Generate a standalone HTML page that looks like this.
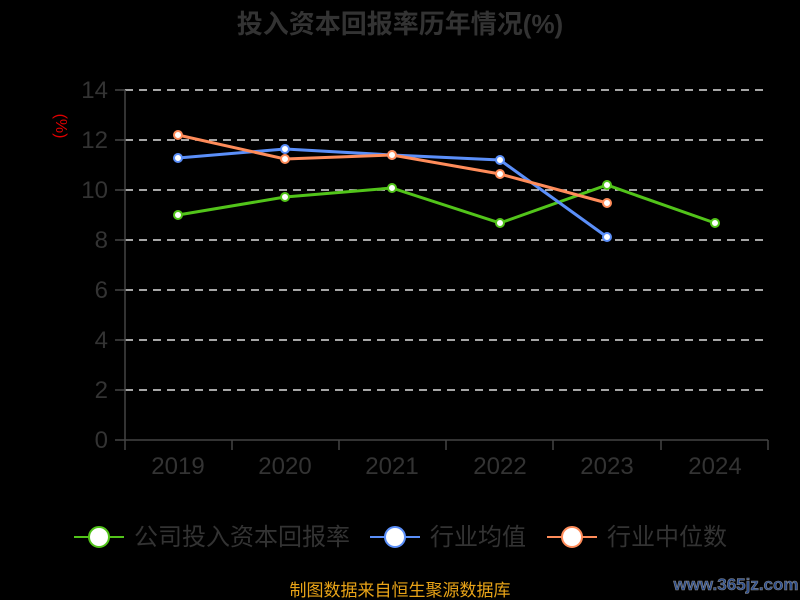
<!DOCTYPE html>
<html><head><meta charset="utf-8"><style>
html,body{margin:0;padding:0;background:#000;width:800px;height:600px;overflow:hidden}
text{font-family:"Liberation Sans","Noto Sans CJK SC",sans-serif}
</style></head><body>
<svg width="800" height="600" xmlns="http://www.w3.org/2000/svg">
<rect width="800" height="600" fill="#000"/>
<text x="400" y="33" text-anchor="middle" font-size="26" font-weight="bold" fill="#333">投入资本回报率历年情况(%)</text>
<text transform="translate(56,126) rotate(90)" text-anchor="middle" font-size="16" fill="#e00000">(%)</text>
<g stroke="#ddd" stroke-width="1.5" stroke-dasharray="8,6">
<line x1="125" y1="90" x2="768" y2="90"/><line x1="125" y1="140" x2="768" y2="140"/>
<line x1="125" y1="190" x2="768" y2="190"/><line x1="125" y1="240" x2="768" y2="240"/>
<line x1="125" y1="290" x2="768" y2="290"/><line x1="125" y1="340" x2="768" y2="340"/>
<line x1="125" y1="390" x2="768" y2="390"/>
</g>
<g stroke="#444" stroke-width="1.5">
<line x1="125" y1="90" x2="125" y2="440"/><line x1="125" y1="440" x2="768" y2="440"/>
<line x1="115" y1="90" x2="125" y2="90"/><line x1="115" y1="140" x2="125" y2="140"/><line x1="115" y1="190" x2="125" y2="190"/><line x1="115" y1="240" x2="125" y2="240"/><line x1="115" y1="290" x2="125" y2="290"/><line x1="115" y1="340" x2="125" y2="340"/><line x1="115" y1="390" x2="125" y2="390"/><line x1="115" y1="440" x2="125" y2="440"/>
<line x1="125" y1="440" x2="125" y2="450"/><line x1="232" y1="440" x2="232" y2="450"/><line x1="339" y1="440" x2="339" y2="450"/><line x1="446" y1="440" x2="446" y2="450"/><line x1="553" y1="440" x2="553" y2="450"/><line x1="661" y1="440" x2="661" y2="450"/><line x1="768" y1="440" x2="768" y2="450"/>
</g>
<g font-size="24" fill="#333" text-anchor="end">
<text x="108" y="98">14</text><text x="108" y="148">12</text><text x="108" y="198">10</text><text x="108" y="248">8</text><text x="108" y="298">6</text><text x="108" y="348">4</text><text x="108" y="398">2</text><text x="108" y="448">0</text>
</g>
<g font-size="24" fill="#333" text-anchor="middle">
<text x="178" y="474">2019</text><text x="285" y="474">2020</text><text x="392" y="474">2021</text><text x="500" y="474">2022</text><text x="607" y="474">2023</text><text x="715" y="474">2024</text>
</g>
<g fill="none" stroke-width="3">
<polyline stroke="#52c41a" points="178,215 285,197 392,188 500,223 607,185 715,223"/>
<polyline stroke="#5b8ff9" points="178,158 285,149 392,155 500,160 607,237"/>
<polyline stroke="#ff8c5a" points="178,135 285,159 392,155 500,174 607,203"/>
</g>
<g fill="#fff" stroke-width="2">
<g stroke="#52c41a"><circle cx="178" cy="215" r="4"/><circle cx="285" cy="197" r="4"/><circle cx="392" cy="188" r="4"/><circle cx="500" cy="223" r="4"/><circle cx="607" cy="185" r="4"/><circle cx="715" cy="223" r="4"/></g>
<g stroke="#5b8ff9"><circle cx="178" cy="158" r="4"/><circle cx="285" cy="149" r="4"/><circle cx="392" cy="155" r="4"/><circle cx="500" cy="160" r="4"/><circle cx="607" cy="237" r="4"/></g>
<g stroke="#ff8c5a"><circle cx="178" cy="135" r="4"/><circle cx="285" cy="159" r="4"/><circle cx="392" cy="155" r="4"/><circle cx="500" cy="174" r="4"/><circle cx="607" cy="203" r="4"/></g>
</g>
<g font-size="24" fill="#333">
<line x1="74" y1="537" x2="124" y2="537" stroke="#52c41a" stroke-width="2"/><circle cx="99" cy="537" r="10" fill="#fff" stroke="#52c41a" stroke-width="2"/>
<text x="134" y="545">公司投入资本回报率</text>
<line x1="370" y1="537" x2="420" y2="537" stroke="#5b8ff9" stroke-width="2"/><circle cx="395" cy="537" r="10" fill="#fff" stroke="#5b8ff9" stroke-width="2"/>
<text x="430" y="545">行业均值</text>
<line x1="547" y1="537" x2="597" y2="537" stroke="#ff8c5a" stroke-width="2"/><circle cx="572" cy="537" r="10" fill="#fff" stroke="#ff8c5a" stroke-width="2"/>
<text x="607" y="545">行业中位数</text>
</g>
<text x="400" y="596" text-anchor="middle" font-size="17" fill="#e8a317">制图数据来自恒生聚源数据库</text>
<text x="736" y="590" text-anchor="middle" font-size="17" font-weight="bold" fill="#2a4d8f" stroke="#888" stroke-width="0.6">www.365jz.com</text>
</svg>
</body></html>
